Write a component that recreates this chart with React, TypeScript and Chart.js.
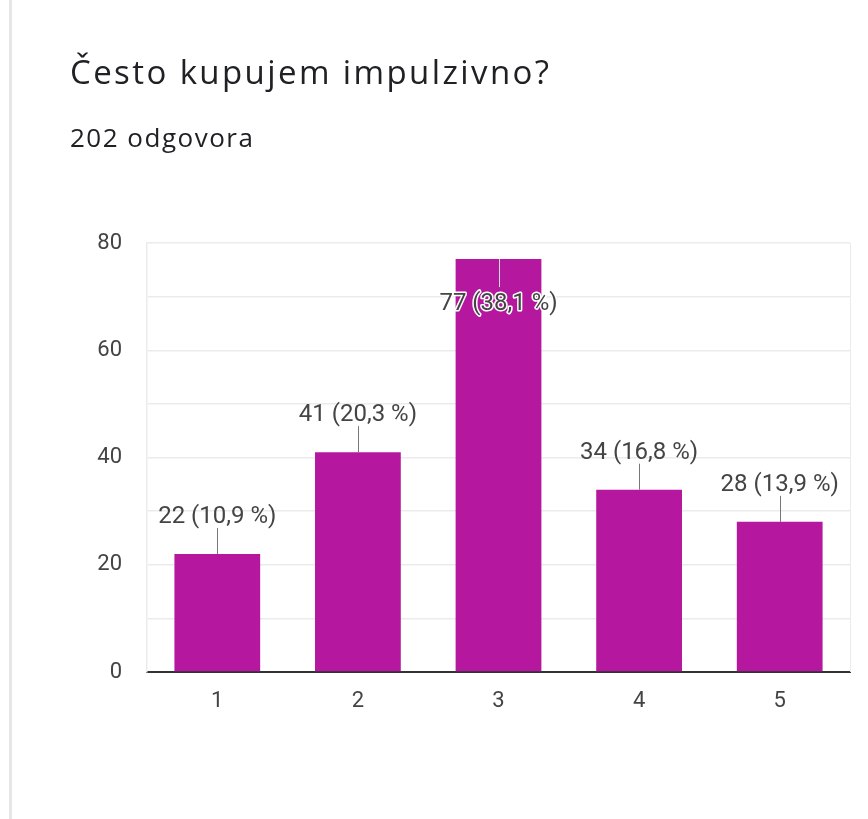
import React, { useEffect, useRef } from "react";
import { Chart, registerables } from "chart.js";

Chart.register(...registerables);

const title = "Često kupujem impulzivno?";
const subtitle = "202 odgovora";
const categories = ["1", "2", "3", "4", "5"];
const counts = [22, 41, 77, 34, 28];
const percentLabels = ["10,9", "20,3", "38,1", "16,8", "13,9"];
const yTicks = [0, 20, 40, 60, 80];

const BAR = "#B5179E";
const FONT = "Roboto";
const HEAD_FONT = "'Open Sans'";

const labelPlugin = {
  id: "barLabels",
  afterDatasetsDraw(chart: any) {
    const ctx = chart.ctx;
    const meta = chart.getDatasetMeta(0);
    const area = chart.chartArea;
    ctx.save();
    ctx.strokeStyle = "#ebebeb";
    ctx.lineWidth = 1;
    ctx.beginPath();
    ctx.moveTo(area.right + 0.5, area.top);
    ctx.lineTo(area.right + 0.5, area.bottom);
    ctx.stroke();

    ctx.font = `24px ${FONT}`;
    ctx.textAlign = "center";
    ctx.textBaseline = "middle";
    meta.data.forEach((bar: any, i: number) => {
      const text = `${counts[i]} (${percentLabels[i]} %)`;
      const x = bar.x;
      const top = bar.y;
      let ly = top - 37;
      const l1 = top;
      let l2 = top - 26;
      let inside = false;
      if (ly - 12 < area.top) {
        inside = true;
        ly = top + 45;
        l2 = top + 28;
      }
      ctx.strokeStyle = inside ? "#dddddd" : "#777777";
      ctx.lineWidth = 1;
      ctx.beginPath();
      ctx.moveTo(Math.round(x) + 0.5, l1);
      ctx.lineTo(Math.round(x) + 0.5, l2);
      ctx.stroke();
      if (inside) {
        ctx.strokeStyle = "#ffffff";
        ctx.lineWidth = 3;
        ctx.lineJoin = "round";
        ctx.strokeText(text, x, ly);
      }
      ctx.fillStyle = "#444444";
      ctx.fillText(text, x, ly);
    });
    ctx.restore();
  },
};

export default function App() {
  const ref = useRef<HTMLCanvasElement>(null);
  useEffect(() => {
    if (!ref.current) return;
    const chart = new Chart(ref.current, {
      type: "bar",
      data: {
        labels: categories,
        datasets: [
          {
            data: counts,
            backgroundColor: BAR,
            barPercentage: 0.61,
            categoryPercentage: 1,
          },
        ],
      },
      options: {
        responsive: false,
        animation: false,
        maintainAspectRatio: false,
        layout: { padding: { left: 0, right: 18, top: 243, bottom: 0 } },
        plugins: {
          legend: { display: false },
          tooltip: { enabled: false },
          title: { display: false },
        },
        scales: {
          x: {
            grid: { display: false, drawTicks: false },
            border: { display: true, color: "#333333", width: 2 },
            ticks: {
              color: "#444444",
              font: { family: FONT, size: 22 },
              padding: 16,
            },
            afterFit(scale: any) {
              scale.height = 147;
            },
          },
          y: {
            min: 0,
            max: 80,
            grid: {
              color: "#ebebeb",
              lineWidth: 1.5,
              drawTicks: false,
            },
            border: { display: true, color: "#ebebeb", width: 1.5 },
            ticks: {
              stepSize: 10,
              color: "#444444",
              font: { family: FONT, size: 22 },
              padding: 25,
              callback: (v: any) => (yTicks.includes(Number(v)) ? String(v) : ""),
            },
            afterFit(scale: any) {
              scale.width = 147;
            },
          },
        },
      },
      plugins: [labelPlugin],
    });
    return () => chart.destroy();
  }, []);

  return (
    <div
      style={{
        position: "fixed",
        left: 0,
        top: 0,
        width: 868,
        height: 819,
        background: "#ffffff",
        overflow: "hidden",
      }}
    >
      <div
        style={{
          position: "absolute",
          left: 9,
          top: 0,
          width: 3,
          height: 819,
          background: "#e6e6e6",
        }}
      />
      <canvas
        ref={ref}
        width={868}
        height={819}
        style={{ position: "absolute", left: 0, top: 0, width: 868, height: 819 }}
      />
      <div
        style={{
          position: "absolute",
          left: 70,
          top: 54,
          fontFamily: HEAD_FONT,
          fontSize: 33,
          lineHeight: "36px",
          letterSpacing: "2.4px",
          color: "#202124",
          whiteSpace: "nowrap",
        }}
      >
        {title}
      </div>
      <div
        style={{
          position: "absolute",
          left: 70,
          top: 123,
          fontFamily: HEAD_FONT,
          fontSize: 26,
          lineHeight: "28px",
          letterSpacing: "1.5px",
          color: "#202124",
          whiteSpace: "nowrap",
        }}
      >
        {subtitle}
      </div>
    </div>
  );
}
